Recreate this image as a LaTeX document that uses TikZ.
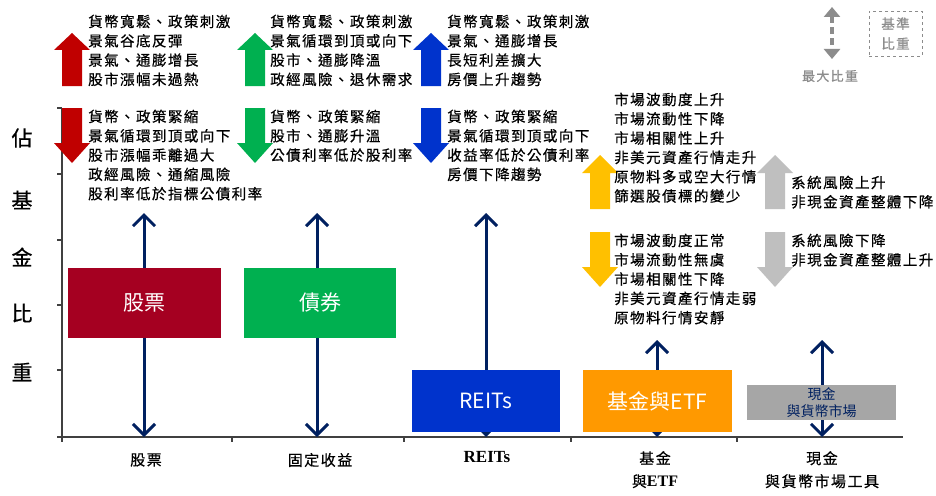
\documentclass[tikz,border=0pt]{standalone}
\usepackage{fontspec}
\setmainfont{Liberation Serif}
\newfontfamily\cjk{Noto Sans CJK TC}
\newfontfamily\cjkt{Noto Sans CJK TC}[LetterSpace=10, FakeBold=0.6]
\usetikzlibrary{arrows.meta}
\definecolor{boxred}{HTML}{A50021}
\definecolor{arrred}{HTML}{C00000}
\definecolor{grn}{HTML}{00B050}
\definecolor{blu}{HTML}{0033CC}
\definecolor{boxorange}{HTML}{FF9900}
\definecolor{arrorange}{HTML}{FFC000}
\definecolor{arrgray}{HTML}{BFBFBF}
\definecolor{boxgray}{HTML}{A6A6A6}
\definecolor{navy}{HTML}{002060}
\definecolor{axisgray}{HTML}{404040}
\definecolor{leggray}{HTML}{8C8C8C}
\tikzset{
  txt/.style={anchor=north west, inner sep=0pt, align=left,
    font=\cjkt\fontsize{14.5}{19.3}\selectfont},
  catbox/.style={inner sep=0pt, text=white, font=\cjk\fontsize{21}{24}\selectfont},
  dbl/.style={draw=navy, line width=3pt,
    {Straight Barb[length=11pt,width=22pt,line width=3pt]}-{Straight Barb[length=11pt,width=22pt,line width=3pt]}},
  axisline/.style={draw=axisgray, line width=1.2pt},
  catlabel/.style={align=center, inner sep=0pt, font=\cjkt\fontsize{15}{23}\selectfont},
}
% fat arrows: center x, tip y, head base y, tail y, colour
\newcommand\fatarrow[5]{%
  \fill[#5] (#1,#2) -- (#1+18,#3) -- (#1+10,#3) -- (#1+10,#4) -- (#1-10,#4) -- (#1-10,#3) -- (#1-18,#3) -- cycle;}
\begin{document}
\begin{tikzpicture}[x=1pt,y=-1pt]
\useasboundingbox (0,0) rectangle (936,495);
\fill[white] (0,0) rectangle (936,495);

% axes
\draw[axisline] (62,108) -- (62,437) -- (903,437);
\foreach \yy in {108,174,240,305,370,437} \draw[axisline] (57,\yy) -- (62,\yy);
\foreach \xx in {62,232,404,571,737} \draw[axisline] (\xx,437) -- (\xx,442);

% y label
\foreach \ch/\yy [count=\i] in {佔/138,基/200,金/257,比/313,重/372}
  \node[inner sep=0pt, font=\cjkt\fontsize{21}{24}\selectfont] (ylab\i) at (22,\yy) {\ch};

% double arrows
\coordinate (sT) at (144,213); \coordinate (sB) at (144,437);
\coordinate (bT) at (317,213); \coordinate (bB) at (317,437);
\coordinate (rT) at (486,213); \coordinate (rB) at (486,437);
\coordinate (fT) at (657,340); \coordinate (fB) at (657,437);
\coordinate (cT) at (822,340); \coordinate (cB) at (822,437);
\draw[dbl] (sT) -- (sB);
\draw[dbl] (bT) -- (bB);
\draw[dbl] (rT) -- (rB);
\draw[dbl] (fT) -- (fB);
\draw[dbl] (cT) -- (cB);

% boxes
\node[catbox, fill=boxred, minimum width=153pt, minimum height=70pt] (stock) at (144.5,303) {股票};
\node[catbox, fill=grn, minimum width=152pt, minimum height=70pt] (bond) at (320,303) {債券};
\node[catbox, fill=blu, minimum width=148pt, minimum height=62pt] (reits) at (486,401) {REITs};
\node[catbox, fill=boxorange, minimum width=149pt, minimum height=62pt] (fund) at (657.5,401) {基金與ETF};
\node[catbox, fill=boxgray, minimum width=149pt, minimum height=35pt, text=navy, align=center,
  font=\cjk\fontsize{14}{17}\selectfont] (cash) at (821.5,402.5) {現金\\與貨幣市場};

% fat arrows
\fatarrow{72}{33}{50}{86}{arrred}
\fatarrow{72}{163}{143}{108}{arrred}
\fatarrow{255}{33}{50}{86}{grn}
\fatarrow{255}{163}{143}{108}{grn}
\fatarrow{431}{33}{50}{86}{blu}
\fatarrow{431}{163}{143}{108}{blu}
\fatarrow{600}{155}{173}{209}{arrorange}
\fatarrow{600}{287}{267}{232}{arrorange}
\fatarrow{775}{155}{173}{209}{arrgray}
\fatarrow{775}{287}{267}{232}{arrgray}

% texts
\node[txt] (t1) at (88,14.5) {貨幣寬鬆、政策刺激\\景氣谷底反彈\\景氣、通膨增長\\股市漲幅未過熱};
\node[txt] (t2) at (88,109.5) {貨幣、政策緊縮\\景氣循環到頂或向下\\股市漲幅乖離過大\\政經風險、通縮風險\\股利率低於指標公債利率};
\node[txt] (t3) at (270,14.5) {貨幣寬鬆、政策刺激\\景氣循環到頂或向下\\股市、通膨降溫\\政經風險、退休需求};
\node[txt] (t4) at (270,109.5) {貨幣、政策緊縮\\股市、通膨升溫\\公債利率低於股利率};
\node[txt] (t5) at (447,14.5) {貨幣寬鬆、政策刺激\\景氣、通膨增長\\長短利差擴大\\房價上升趨勢};
\node[txt] (t6) at (447,109.5) {貨幣、政策緊縮\\景氣循環到頂或向下\\收益率低於公債利率\\房價下降趨勢};
\node[txt] (t7) at (614,92.5) {市場波動度上升\\市場流動性下降\\市場相關性上升\\非美元資產行情走升\\原物料多或空大行情\\篩選股債標的變少};
\node[txt] (t8) at (614,233.5) {市場波動度正常\\市場流動性無虞\\市場相關性下降\\非美元資產行情走弱\\原物料行情安靜};
\node[txt] (t9) at (791,175.5) {系統風險上升\\非現金資產整體下降};
\node[txt] (t10) at (791,233.5) {系統風險下降\\非現金資產整體上升};

% category labels
\node[catlabel] (c1) at (146,460) {股票};
\node[catlabel, font=\rmfamily\bfseries\fontsize{17}{23}\selectfont] (c3) at (487,457) {REITs};
\node[catlabel] (c2) at (320,460) {固定收益};
\node[catlabel, anchor=north] (c4) at (655,451) {基金\\與{\rmfamily\bfseries\fontsize{16}{23}\selectfont ETF}};
\node[catlabel, anchor=north] (c5) at (822,451) {現金\\與貨幣市場工具};

% legend
\coordinate (lT) at (832,7); \coordinate (lB) at (832,59);
\draw[draw=leggray, line width=4pt, dash pattern=on 7pt off 4pt,
  {Triangle[length=10pt,width=16pt]}-{Triangle[length=10pt,width=16pt]}] (lT) -- (lB);
\node[inner sep=0pt, text=leggray, font=\cjkt\fontsize{13}{16}\selectfont] (lmax) at (830,76) {最大比重};
\node[draw=leggray, dashed, line width=0.8pt, minimum width=53pt, minimum height=45pt, align=center,
  text=leggray, inner sep=0pt, font=\cjkt\fontsize{13.5}{20}\selectfont] (lbase) at (895.5,33.5) {基準\\比重};
\end{tikzpicture}
\end{document}
